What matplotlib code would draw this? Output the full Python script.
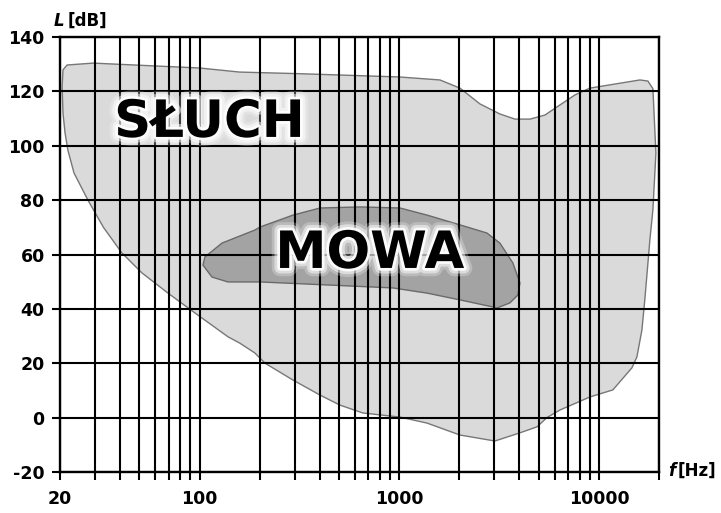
import numpy as np
import matplotlib
matplotlib.use("Agg")
import matplotlib.pyplot as plt
import matplotlib.ticker as mticker
import matplotlib.patheffects as pe

# hearing area (SŁUCH): frequency [Hz], level [dB], outline clockwise
hear_f = [20.7, 21.7, 29.3, 100, 159, 318, 1000, 1600, 2014, 2535, 3190, 3800,
          4520, 5370, 6380, 7590, 9020, 12740, 16040, 17600, 18640, 19300,
          18640, 18000, 16980, 16420, 15500, 14630, 11750, 9020, 6380, 5490,
          4895, 4020, 3015, 2014, 1377, 1009, 658, 505, 401, 294, 213, 189,
          159, 139, 94.8, 69.5, 51.5, 40.8, 33.0, 27.6, 23.5, 21.9, 21.2, 20.7,
          20.5]
hear_db = [127.9, 129.7, 130.4, 128.6, 127.1, 126.5, 125.3, 124.2, 121.2, 115.4,
           111.7, 109.8, 109.8, 111.3, 115.0, 118.7, 121.2, 123.0, 124.2, 123.8,
           121.0, 97.3, 76.4, 65.3, 43.3, 32.2, 22.3, 18.3, 10.2, 7.6, 2.8, 0.0,
           -3.4, -5.6, -8.6, -6.4, -2.0, 0.2, 1.7, 4.6, 8.3, 13.8, 20.0, 23.8,
           27.4, 29.7, 38.5, 45.8, 53.2, 60.6, 70.0, 80.0, 90.0, 98.4, 104.7,
           112.0, 121.6]

# speech area (MOWA)
speech_f = [104, 106.4, 129.5, 189.4, 200.7, 294, 401, 636, 1009, 1377, 2014,
            2749, 3192, 3709, 4022, 3929, 3584, 3085, 2946, 2014, 1377, 930,
            435, 200.7, 138.8, 115.4]
speech_db = [56.1, 59.1, 64.2, 69.0, 70.1, 74.5, 77.1, 77.5, 77.1, 74.5, 70.9,
             67.9, 64.2, 56.9, 49.5, 45.1, 42.2, 40.3, 40.7, 43.3, 45.8, 47.7,
             48.8, 49.9, 49.9, 51.7]

major_f = [20, 100, 1000, 10000]
major_labels = ["20", "100", "1000", "10000"]
minor_f = [30, 40, 50, 60, 70, 80, 90, 200, 300, 400, 500, 600, 700, 800, 900,
           2000, 3000, 4000, 5000, 6000, 7000, 8000, 9000, 20000]
y_ticks = [-20, 0, 20, 40, 60, 80, 100, 120, 140]

plt.rcParams["font.family"] = "DejaVu Sans"
plt.rcParams["font.weight"] = "bold"
plt.rcParams["axes.unicode_minus"] = False

fig, ax = plt.subplots(figsize=(7.21, 5.13), dpi=100)
fig.subplots_adjust(left=60/721, right=659/721, bottom=1-472/513, top=1-37/513)

ax.set_xscale("log")
ax.set_xlim(20, 20000)
ax.set_ylim(-20, 140)

ax.fill(hear_f, hear_db, facecolor="#dadada", edgecolor="#777777", lw=1.0, zorder=1)
ax.fill(speech_f, speech_db, facecolor="#a3a3a3", edgecolor="#6a6a6a", lw=1.0, zorder=1.2)

ax.xaxis.set_major_locator(mticker.FixedLocator(major_f))
ax.xaxis.set_major_formatter(mticker.FixedFormatter(major_labels))
ax.xaxis.set_minor_locator(mticker.FixedLocator(minor_f))
ax.xaxis.set_minor_formatter(mticker.NullFormatter())
ax.set_yticks(y_ticks)

ax.set_axisbelow(False)
ax.grid(which="both", color="black", lw=1.5, zorder=2)
ax.tick_params(which="both", direction="out", length=6, width=1.5, color="black")
ax.tick_params(axis="x", which="major", pad=7, labelsize=12.5)
ax.tick_params(axis="y", pad=5, labelsize=12.5)
for s in ax.spines.values():
    s.set_linewidth(1.7)

glow = [pe.Stroke(linewidth=12, foreground="white", alpha=0.25),
        pe.Stroke(linewidth=8, foreground="white", alpha=0.5),
        pe.Stroke(linewidth=4, foreground="white", alpha=0.9),
        pe.Normal()]
ax.text(112, 108.4, "SŁUCH", fontsize=37, fontweight="bold", ha="center",
        va="center", path_effects=glow, zorder=5)
ax.text(712, 60.2, "MOWA", fontsize=37, fontweight="bold", ha="center",
        va="center", path_effects=glow, zorder=5)

fig.text(54/721, 1-21/513, "L", fontsize=12, fontweight="bold", style="italic",
         ha="left", va="center")
fig.text(68/721, 1-21/513, "[dB]", fontsize=12, fontweight="bold",
         ha="left", va="center")
fig.text(668/721, 1-471/513, "f", fontsize=12, fontweight="bold", style="italic",
         ha="left", va="center")
fig.text(678/721, 1-471/513, "[Hz]", fontsize=12, fontweight="bold",
         ha="left", va="center")

fig.savefig("out.png", dpi=100)
